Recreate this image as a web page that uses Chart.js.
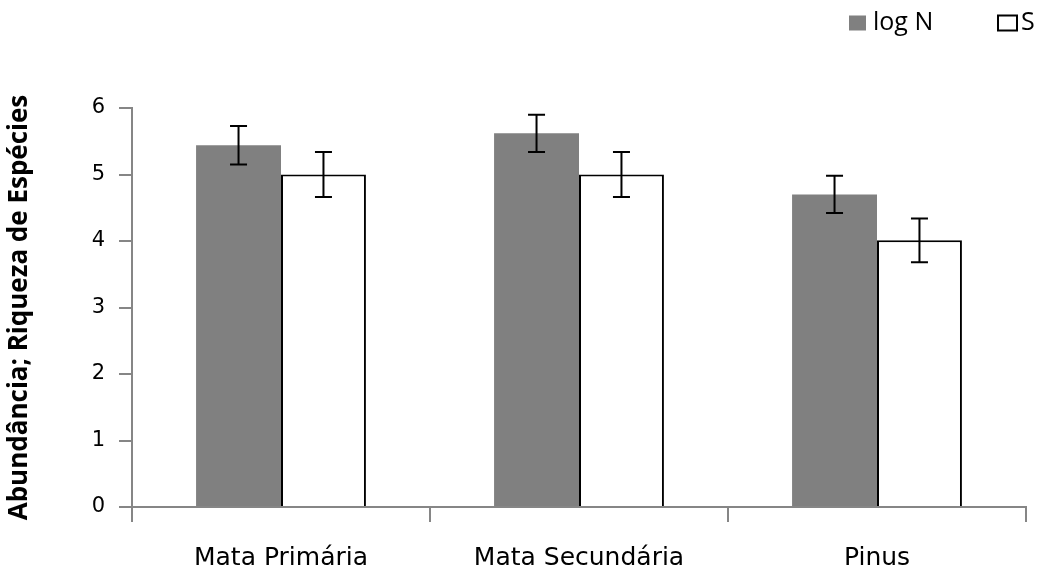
<!DOCTYPE html>
<html>
<head>
    <meta charset="utf-8">
    <title>Abundância e Riqueza</title>
    <script src="https://cdn.jsdelivr.net/npm/chart.js"></script>
    <style>
        html, body { margin: 0; padding: 0; background: #fff; }
        .chart-container { width: 1041px; height: 575px; }
    </style>
</head>
<body>
    <div class="chart-container">
        <canvas id="barChart"></canvas>
    </div>

    <script>
        // data
        const categories = ['Mata Primária', 'Mata Secundária', 'Pinus'];
        const logN = [5.44, 5.62, 4.70];
        const logNErr = [0.29, 0.28, 0.28];
        const riqueza = [5.0, 5.0, 4.01];
        const riquezaErr = [0.34, 0.34, 0.33];
        const yTicks = [0, 1, 2, 3, 4, 5, 6];

        const axisGrey = '#868686';

        // draws the +/- error whiskers on top of each bar
        const errorBars = {
            id: 'errorBars',
            afterDatasetsDraw(chart) {
                const ctx = chart.ctx;
                const yScale = chart.scales.y;
                ctx.save();
                ctx.strokeStyle = '#000';
                ctx.lineWidth = 2;
                chart.data.datasets.forEach((ds, i) => {
                    const meta = chart.getDatasetMeta(i);
                    meta.data.forEach((bar, j) => {
                        const v = ds.data[j];
                        const e = ds.errors[j];
                        const top = yScale.getPixelForValue(v + e);
                        const bot = yScale.getPixelForValue(v - e);
                        const x = bar.x;
                        const cap = 8.5;
                        ctx.beginPath();
                        ctx.moveTo(x, top); ctx.lineTo(x, bot);
                        ctx.moveTo(x - cap, top); ctx.lineTo(x + cap, top);
                        ctx.moveTo(x - cap, bot); ctx.lineTo(x + cap, bot);
                        ctx.stroke();
                    });
                });
                ctx.restore();
            }
        };

        // simple legend in the top right corner, wide gap between the two items
        const cornerLegend = {
            id: 'cornerLegend',
            afterDraw(chart) {
                const ctx = chart.ctx;
                const ds = chart.data.datasets;
                const y = 23;
                const items = [
                    { x: 849, w: 17, ds: ds[0], border: false, gap: 7 },
                    { x: 998, w: 19, ds: ds[1], border: true, gap: 4 }
                ];
                ctx.save();
                ctx.font = '25px "Open Sans"';
                ctx.textBaseline = 'middle';
                items.forEach(it => {
                    ctx.fillStyle = it.ds.backgroundColor;
                    ctx.fillRect(it.x, y - 7.5, it.w, 15);
                    if (it.border) {
                        ctx.strokeStyle = '#000';
                        ctx.lineWidth = 2;
                        ctx.strokeRect(it.x, y - 7.5, it.w, 15);
                    }
                    ctx.fillStyle = '#000';
                    ctx.fillText(it.ds.label, it.x + it.w + it.gap, y);
                });
                ctx.restore();
            }
        };

        const ctx = document.getElementById('barChart').getContext('2d');
        new Chart(ctx, {
            type: 'bar',
            data: {
                labels: categories,
                datasets: [{
                    label: 'log N',
                    data: logN,
                    errors: logNErr,
                    backgroundColor: '#808080',
                    borderWidth: 0,
                    barPercentage: 1.0,
                    categoryPercentage: 0.57
                }, {
                    label: 'S',
                    data: riqueza,
                    errors: riquezaErr,
                    backgroundColor: '#ffffff',
                    borderColor: '#000000',
                    borderWidth: 2,
                    barPercentage: 1.0,
                    categoryPercentage: 0.57
                }]
            },
            options: {
                responsive: true,
                maintainAspectRatio: false,
                animation: false,
                layout: { padding: { left: 4, right: 15, top: 108, bottom: 0 } },
                plugins: {
                    tooltip: { enabled: false },
                    legend: { display: false }
                },
                scales: {
                    x: {
                        grid: {
                            drawOnChartArea: false,
                            offset: true,
                            color: axisGrey,
                            tickLength: 15,
                            lineWidth: 2
                        },
                        border: { color: axisGrey, width: 2 },
                        ticks: {
                            color: '#000',
                            padding: 21,
                            font: { family: 'DejaVu Sans', size: 25 }
                        },
                        afterFit(scale) { scale.height = 68; }
                    },
                    y: {
                        min: 0,
                        max: 6,
                        afterBuildTicks(scale) {
                            scale.ticks = yTicks.map(v => ({ value: v }));
                        },
                        grid: {
                            drawOnChartArea: false,
                            color: axisGrey,
                            tickLength: 13,
                            lineWidth: 2
                        },
                        border: { color: axisGrey, width: 2 },
                        ticks: {
                            color: '#000',
                            padding: 14,
                            font: { family: 'DejaVu Sans', size: 21 }
                        },
                        title: {
                            display: true,
                            text: 'Abundância; Riqueza de Espécies',
                            color: '#000',
                            font: { family: 'Open Sans', size: 26, weight: 'bold' },
                            padding: { top: 0, bottom: 8 }
                        },
                        afterFit(scale) { scale.width = 128; }
                    }
                }
            },
            plugins: [errorBars, cornerLegend]
        });
    </script>
</body>
</html>
